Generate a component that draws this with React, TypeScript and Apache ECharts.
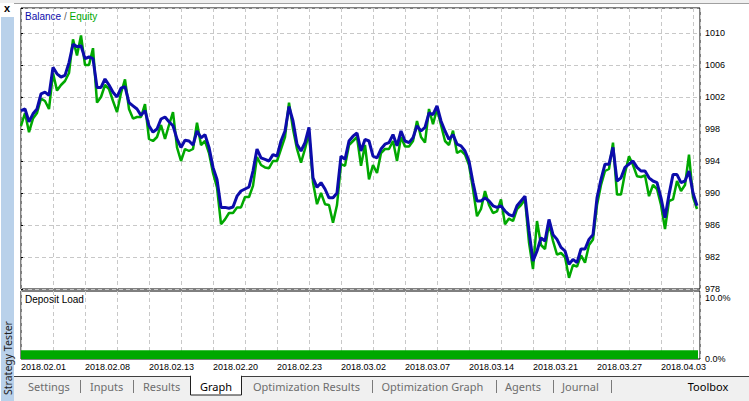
import React, { useEffect, useRef } from 'react';
import * as echarts from 'echarts';

const dateLabels = ['2018.02.01', '2018.02.08', '2018.02.13', '2018.02.20', '2018.02.23', '2018.03.02', '2018.03.07', '2018.03.14', '2018.03.21', '2018.03.27', '2018.04.03'];

const balance = [
  1000.3, 1000.5, 998.9, 999.9, 1000.5, 1002.4, 1002.6, 1002.2, 1005.7, 1004.9,
  1004.5, 1004.7, 1006.3, 1008.6, 1008.3, 1008.4, 1006.8, 1007.0, 1006.8, 1003.2,
  1003.2, 1004.25, 1003.5, 1002.6, 1002.0, 1003.1, 1003.3, 1001.3, 1000.9, 1000.5,
  999.7, 1000.3, 998.4, 997.6, 998.0, 999.25, 999.5, 998.9, 998.4, 996.75,
  995.7, 996.6, 996.5, 996.0, 997.75, 996.9, 997.3, 995.7, 993.2, 991.7,
  988.2, 988.2, 988.1, 988.25, 989.6, 990.25, 990.5, 990.75, 992.75, 995.5,
  994.4, 994.2, 994.0, 994.8, 994.6, 996.5, 997.75, 1000.8, 999.0, 996.1,
  995.25, 996.3, 998.2, 991.9, 990.7, 991.3, 990.5, 989.4, 989.4, 990.0,
  994.6, 994.2, 996.5, 997.1, 997.5, 995.25, 996.7, 996.5, 994.6, 994.4,
  995.5, 996.1, 996.3, 997.3, 995.9, 997.75, 996.5, 996.3, 996.9, 998.4,
  997.75, 998.2, 1000.0, 999.8, 1000.9, 999.0, 997.75, 996.7, 997.3, 996.1,
  995.9, 995.25, 994.0, 991.3, 989.0, 989.0, 989.4, 989.0, 988.4, 988.2,
  988.4, 987.75, 987.3, 987.1, 988.4, 989.0, 989.6, 985.25, 981.5, 982.75,
  984.4, 984.0, 986.7, 984.8, 984.2, 983.2, 982.75, 981.1, 981.7, 981.3,
  983.0, 983.0, 984.2, 984.8, 989.4, 991.7, 993.6, 993.6, 995.7, 991.5,
  991.9, 993.2, 993.6, 994.0, 993.2, 992.75, 992.75, 991.9, 991.5, 991.3,
  989.4, 986.9, 989.8, 992.3, 992.3, 991.3, 991.5, 992.75, 990.0, 988.4,
];

const equity = [
  998.4, 1000.0, 997.6, 999.3, 1000.0, 1001.8, 1001.5, 1000.5, 1005.0, 1002.8,
  1003.5, 1004.0, 1005.0, 1009.2, 1007.2, 1009.7, 1006.0, 1006.0, 1008.1, 1001.3,
  1002.0, 1003.5, 1003.0, 1001.5, 1000.1, 1002.5, 1004.2, 1000.5, 999.3, 999.5,
  999.5, 1001.1, 996.75, 996.5, 997.0, 998.5, 996.75, 998.5, 1000.1, 995.7,
  994.0, 995.5, 995.25, 995.5, 998.8, 996.0, 996.5, 995.0, 992.5, 990.7,
  986.1, 986.7, 987.5, 987.5, 988.2, 988.2, 989.5, 989.5, 990.9, 994.5,
  993.5, 993.2, 993.1, 994.0, 994.0, 995.5, 997.0, 1001.3, 998.0, 995.5,
  993.8, 995.5, 997.5, 991.3, 988.6, 990.0, 988.6, 988.5, 986.3, 988.5,
  993.6, 993.4, 996.0, 996.5, 997.0, 993.4, 996.0, 991.7, 993.5, 992.5,
  995.0, 995.5, 995.5, 996.5, 994.0, 997.0, 995.8, 995.8, 996.5, 999.0,
  997.0, 996.3, 1000.5, 998.6, 1000.5, 998.5, 996.5, 996.0, 997.8, 995.0,
  995.3, 994.8, 993.5, 990.5, 987.1, 988.0, 990.25, 988.5, 987.5, 987.7,
  989.2, 986.1, 986.8, 986.5, 988.0, 988.5, 989.2, 983.8, 980.5, 986.5,
  983.5, 983.0, 986.2, 984.0, 982.3, 982.5, 982.0, 979.4, 981.0, 980.8,
  982.2, 981.3, 983.5, 984.2, 988.5, 991.0, 992.75, 993.0, 996.3, 989.8,
  989.8, 992.5, 994.6, 993.5, 992.1, 992.0, 992.2, 989.6, 991.0, 990.5,
  988.5, 985.5, 989.0, 989.2, 991.5, 990.25, 991.0, 994.8, 989.5, 988.0,
];

const depositX = [0, 169.25];
const depositLoad = [1.3, 1.3];

const tabs = [
  { text: 'Settings', x: 28 },
  { text: 'Inputs', x: 90 },
  { text: 'Results', x: 143 },
  { text: 'Optimization Results', x: 253 },
  { text: 'Optimization Graph', x: 381.5 },
  { text: 'Agents', x: 505 },
  { text: 'Journal', x: 562 },
];
const separators = [80, 133, 372, 496, 553, 611];

const BLUE = '#0c0cab';
const GREEN = '#00a800';
const AXIS_FONT = 'Liberation Sans, Arial, sans-serif';
const UI_FONT = 'Noto Sans, Open Sans, sans-serif';

export default function App() {
  const ref = useRef<HTMLDivElement>(null);

  useEffect(() => {
    if (!ref.current) return;
    const chart = echarts.init(ref.current, undefined, { renderer: 'svg' });

    const split = { show: true, lineStyle: { color: '#c8c8c8', type: [4, 3] as any, width: 1 } };
    const xCommon = {
      type: 'value' as const,
      min: 0,
      max: 169.75,
      interval: 8,
      axisLine: { show: false },
      axisTick: { show: false },
      splitLine: split,
    };

    const graphic: any[] = [
      { type: 'rect', shape: { x: 0, y: 0, width: 749, height: 3 }, style: { fill: '#f0f0f0' }, z: 50 },
      { type: 'line', shape: { x1: 14, y1: 3.5, x2: 749, y2: 3.5 }, style: { stroke: '#a0a0a0', lineWidth: 1 }, z: 50 },
      { type: 'rect', shape: { x: 1, y: 17, width: 13, height: 384 }, style: { fill: '#b9d1ea' }, z: 50 },
      { type: 'text', x: 7, y: 8, style: { text: 'x', font: 'bold 11px ' + AXIS_FONT, fill: '#000', align: 'center', verticalAlign: 'middle' }, z: 60 },
      { type: 'text', x: 7.5, y: 358, rotation: Math.PI / 2, style: { text: 'Strategy Tester', font: '10.5px ' + UI_FONT, fill: '#222', align: 'center', verticalAlign: 'middle' }, z: 60 },
      {
        type: 'text', x: 25, y: 16, z: 60,
        style: {
          text: '{b|Balance} {s|/} {e|Equity}',
          verticalAlign: 'middle',
          font: '10px ' + AXIS_FONT,
          rich: {
            b: { fill: BLUE, font: '10px ' + AXIS_FONT },
            s: { fill: '#606060', font: '10px ' + AXIS_FONT },
            e: { fill: GREEN, font: '10px ' + AXIS_FONT },
          },
        },
      },
      { type: 'text', x: 25, y: 299, z: 60, style: { text: 'Deposit Load', font: '10px ' + AXIS_FONT, fill: '#000', verticalAlign: 'middle' } },
      { type: 'rect', shape: { x: 14, y: 376, width: 735, height: 25 }, style: { fill: '#f0f0f0' }, z: 50 },
      { type: 'line', shape: { x1: 14, y1: 376.5, x2: 749, y2: 376.5 }, style: { stroke: '#404040', lineWidth: 1 }, z: 51 },
      { type: 'rect', shape: { x: 190.5, y: 376, width: 51, height: 19 }, style: { fill: '#ffffff', stroke: '#202020', lineWidth: 1 }, z: 52 },
      { type: 'rect', shape: { x: 191, y: 375, width: 50, height: 3 }, style: { fill: '#ffffff' }, z: 53 },
      { type: 'text', x: 216, y: 386, z: 60, style: { text: 'Graph', font: '11px ' + UI_FONT, fill: '#000', align: 'center', verticalAlign: 'middle' } },
      { type: 'text', x: 708, y: 386, z: 60, style: { text: 'Toolbox', font: '11px ' + UI_FONT, fill: '#000', align: 'center', verticalAlign: 'middle' } },
    ];
    tabs.forEach((t) => {
      graphic.push({ type: 'text', x: t.x, y: 386, z: 60, style: { text: t.text, font: '11px ' + UI_FONT, fill: '#6d6d6d', verticalAlign: 'middle' } });
    });
    separators.forEach((sx) => {
      graphic.push({ type: 'line', shape: { x1: sx + 0.5, y1: 380, x2: sx + 0.5, y2: 393 }, style: { stroke: '#7a7a7a', lineWidth: 1 }, z: 60 });
    });

    chart.setOption({
      animation: false,
      backgroundColor: '#ffffff',
      grid: [
        { left: 21, right: 49, top: 8, height: 281, show: true, borderColor: '#000', borderWidth: 1, backgroundColor: '#fff' },
        { left: 21, right: 49, top: 291, height: 68, show: true, borderColor: '#000', borderWidth: 1, backgroundColor: '#fff' },
      ],
      xAxis: [
        { ...xCommon, gridIndex: 0, axisLabel: { show: false } },
        {
          ...xCommon,
          gridIndex: 1,
          axisLabel: {
            show: true,
            align: 'left',
            margin: 3,
            fontSize: 9,
            fontFamily: AXIS_FONT,
            color: '#000',
            formatter: (v: number) => {
              const k = v / 16;
              return Number.isInteger(k) && k < dateLabels.length ? dateLabels[k] : '';
            },
          },
        },
      ],
      yAxis: [
        {
          type: 'value',
          gridIndex: 0,
          position: 'right',
          min: 978,
          max: 1013.125,
          interval: 4,
          axisLine: { show: false },
          axisTick: { show: true, length: 2, lineStyle: { color: '#000' } },
          splitLine: split,
          axisLabel: {
            margin: 5,
            fontSize: 9,
            fontFamily: AXIS_FONT,
            color: '#000',
            formatter: (v: number) => (Number.isInteger((v - 978) / 4) ? String(v) : ''),
          },
        },
        {
          type: 'value',
          gridIndex: 1,
          position: 'right',
          min: 0,
          max: 10,
          interval: 10,
          axisLine: { show: false },
          axisTick: { show: false },
          splitLine: { show: false },
          axisLabel: {
            margin: 5,
            fontSize: 9,
            fontFamily: AXIS_FONT,
            color: '#000',
            formatter: (v: number) => (v === 10 ? '{t|10.0%}' : v === 0 ? '{b|0.0%}' : ''),
            rich: {
              t: { fontSize: 9, fontFamily: AXIS_FONT, color: '#000', padding: [14, 0, 0, 0] },
              b: { fontSize: 9, fontFamily: AXIS_FONT, color: '#000' },
            },
          },
        },
      ],
      series: [
        {
          name: 'Equity',
          type: 'line',
          xAxisIndex: 0,
          yAxisIndex: 0,
          data: equity.map((v, i) => [i, v]),
          symbol: 'none',
          lineStyle: { color: GREEN, width: 2.5 },
          silent: true,
        },
        {
          name: 'Balance',
          type: 'line',
          xAxisIndex: 0,
          yAxisIndex: 0,
          data: balance.map((v, i) => [i, v]),
          symbol: 'none',
          lineStyle: { color: BLUE, width: 3 },
          silent: true,
        },
        {
          name: 'Deposit Load',
          type: 'line',
          xAxisIndex: 1,
          yAxisIndex: 1,
          data: depositLoad.map((v, i) => [depositX[i], v]),
          symbol: 'none',
          lineStyle: { width: 0, color: GREEN },
          areaStyle: { color: GREEN, opacity: 1 },
          silent: true,
        },
      ],
      graphic,
    });

    return () => chart.dispose();
  }, []);

  return (
    <div
      ref={ref}
      style={{ position: 'fixed', left: 0, top: 0, width: 749, height: 401, background: '#fff' }}
    />
  );
}
